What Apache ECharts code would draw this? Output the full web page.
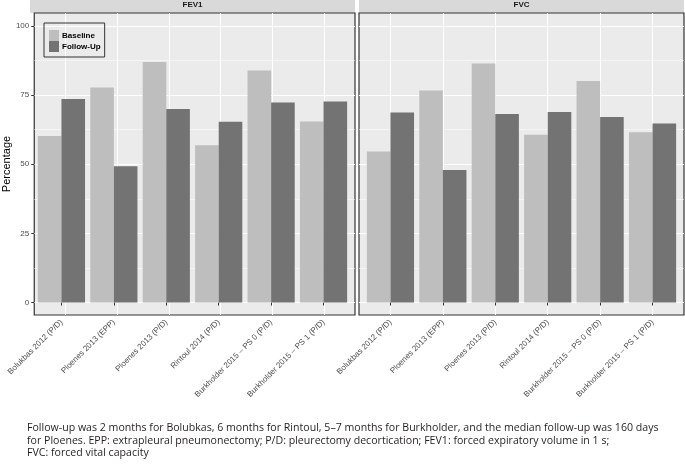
<!DOCTYPE html>
<html>
<head>
<meta charset="utf-8">
<script src="https://cdn.jsdelivr.net/npm/echarts@6/dist/echarts.min.js"></script>
<style>
  html, body { margin: 0; padding: 0; background: #fff; }
  #chart { width: 685px; height: 465px; }
</style>
</head>
<body>
<div id="chart"></div>
<script>
// data
var categories = [
  'Bolukbas 2012 (P/D)',
  'Ploenes 2013 (EPP)',
  'Ploenes 2013 (P/D)',
  'Rintoul 2014 (P/D)',
  'Burkholder 2015 – PS 0 (P/D)',
  'Burkholder 2015 – PS 1 (P/D)'
];
var panels = ['FEV1', 'FVC'];
var fev1Baseline = [60.2, 77.8, 87.0, 56.9, 83.9, 65.5];
var fev1FollowUp = [73.6, 49.3, 70.0, 65.4, 72.3, 72.7];
var fvcBaseline = [54.6, 76.7, 86.4, 60.7, 80.1, 61.6];
var fvcFollowUp = [68.7, 47.9, 68.2, 68.9, 67.1, 64.7];
var yTicks = [0, 25, 50, 75, 100];
var yMinorTicks = [12.5, 37.5, 62.5, 87.5];
var xCenters = [1, 2, 3, 4, 5, 6]; // category positions for the vertical grid lines

var caption = 'Follow-up was 2 months for Bolubkas, 6 months for Rintoul, 5–7 months for Burkholder, and the median follow-up was 160 days\n' +
  'for Ploenes. EPP: extrapleural pneumonectomy; P/D: pleurectomy decortication; FEV1: forced expiratory volume in 1 s;\n' +
  'FVC: forced vital capacity';

var yMin = -4.5, yMax = 104.7;
var panelLeft = [30, 359];
var panelWidth = 325;
var unit = panelWidth / 6.2; // ggplot adds 0.6 of a category each side
var panelTop = 13, panelHeight = 302;

var grids = [], xAxes = [], yAxes = [];
var dataX = [], dataY = [];

panels.forEach(function (name, p) {
  // strip
  grids.push({ left: panelLeft[p], top: 0, width: panelWidth, height: 13, show: true,
    backgroundColor: '#D9D9D9', borderWidth: 0 });
  xAxes.push({ gridIndex: grids.length - 1, type: 'value', position: 'top', min: 0, max: 1,
    axisLine: { show: false }, axisTick: { show: false }, axisLabel: { show: false }, splitLine: { show: false },
    name: name, nameLocation: 'middle', nameGap: -9,
    nameTextStyle: { fontSize: 8, fontWeight: 'bold', color: '#1A1A1A', fontFamily: 'Liberation Sans' } });
  yAxes.push({ gridIndex: grids.length - 1, type: 'value', show: false });

  // panel background with the grid lines
  grids.push({ left: panelLeft[p], top: panelTop, width: panelWidth, height: panelHeight, show: true,
    backgroundColor: '#EBEBEB', borderColor: '#333333', borderWidth: 1.2 });
  var bg = grids.length - 1;
  xAxes.push({ gridIndex: bg, type: 'value', min: 0.4, max: 6.6,
    axisLine: { show: false },
    axisTick: { show: false, customValues: xCenters },
    axisLabel: { show: false },
    splitLine: { show: true, lineStyle: { color: '#FFFFFF', width: 1 } } });
  yAxes.push({ gridIndex: bg, type: 'value', min: yMin, max: yMax,
    axisLine: { show: false },
    axisTick: { show: p === 0, customValues: yTicks, length: 3, lineStyle: { color: '#333333' } },
    axisLabel: { show: p === 0, customValues: yTicks, margin: 5, fontSize: 8, color: '#4D4D4D', fontFamily: 'Liberation Sans' },
    splitLine: { show: true, lineStyle: { color: '#FFFFFF', width: 1 } },
    name: p === 0 ? 'Percentage' : '', nameLocation: 'middle', nameGap: 21,
    nameTextStyle: { fontSize: 11, color: '#000000', fontFamily: 'Liberation Sans' } });
  yAxes.push({ gridIndex: bg, type: 'value', min: yMin, max: yMax,
    axisLine: { show: false },
    axisTick: { show: false, customValues: yMinorTicks },
    axisLabel: { show: false },
    splitLine: { show: true, lineStyle: { color: '#FFFFFF', width: 0.5 } } });

  // data grid
  grids.push({ left: panelLeft[p] + unit * 0.1, top: panelTop, width: unit * 6, height: panelHeight });
  xAxes.push({ gridIndex: grids.length - 1, type: 'category', data: categories,
    axisLine: { show: false },
    axisTick: { show: true, alignWithLabel: true, length: 3, lineStyle: { color: '#333333' } },
    axisLabel: { rotate: 45, interval: 0, margin: 6, fontSize: 8, color: '#4D4D4D', fontFamily: 'Liberation Sans' },
    splitLine: { show: false } });
  yAxes.push({ gridIndex: grids.length - 1, type: 'value', min: yMin, max: yMax, show: false });
  dataX.push(xAxes.length - 1);
  dataY.push(yAxes.length - 1);
});

function barSeries(name, data, p, color) {
  return {
    name: name, type: 'bar', data: data, xAxisIndex: dataX[p], yAxisIndex: dataY[p],
    barGap: '0%', barCategoryGap: '10%',
    itemStyle: { color: color }
  };
}

var chart = echarts.init(document.getElementById('chart'));
chart.setOption({
  animation: false,
  grid: grids,
  xAxis: xAxes,
  yAxis: yAxes,
  legend: {
    left: 44, top: 23, orient: 'vertical', icon: 'rect',
    itemWidth: 10, itemHeight: 11, itemGap: 0, padding: [7, 4, 5, 5],
    borderColor: '#333333', borderWidth: 1,
    data: ['Baseline', 'Follow-Up'],
    textStyle: { fontSize: 8, fontWeight: 'bold', color: '#000000', fontFamily: 'Liberation Sans', padding: [0, 0, 0, -2] }
  },
  title: {
    text: caption, left: 22, top: 417,
    textStyle: { fontSize: 10.6, fontWeight: 'normal', color: '#231F20', lineHeight: 12.5, fontFamily: 'Open Sans' }
  },
  series: [
    barSeries('Baseline', fev1Baseline, 0, '#BEBEBE'),
    barSeries('Follow-Up', fev1FollowUp, 0, '#737373'),
    barSeries('Baseline', fvcBaseline, 1, '#BEBEBE'),
    barSeries('Follow-Up', fvcFollowUp, 1, '#737373')
  ]
});
</script>
</body>
</html>
